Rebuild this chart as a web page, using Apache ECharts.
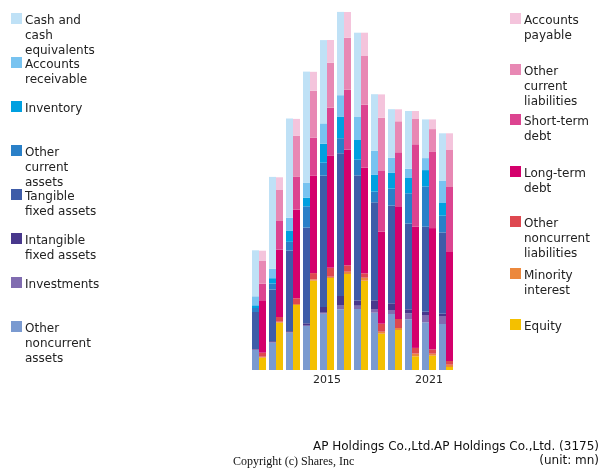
<!DOCTYPE html>
<html><head><meta charset="utf-8">
<script src="https://cdn.jsdelivr.net/npm/echarts@6/dist/echarts.min.js"></script>
<style>html,body{margin:0;padding:0;background:#fff}#c{width:600px;height:470px}</style>
</head><body><div id="c"></div>
<script>
const years = ['2011','2012','2013','2014','2015','2016','2017','2018','2019','2020','2021','2022'];
const tickLabels = ['2015','2021'];
// Assets (bottom to top)
const otherNoncurrentAssets = [20,27.3,37.3,44,56.3,60.7,61,57.3,56,50.7,47.7,46];
const investments = [0.5,0.5,0.5,1,1,3.7,3.3,3.7,4,6,7.3,8];
const intangibleFixedAssets = [0.5,1,1,1.7,5.7,9.7,5.3,8.7,6.7,4,3.3,2.3];
const tangibleFixedAssets = [37,51.7,80.7,95.7,131.3,142.7,125,98,97.7,85.7,85,81.3];
const otherCurrentAssets = [4,6,8.7,21.3,13,15,15.7,10.7,17,30.3,40.3,16.7];
const inventory = [2.7,5.3,11.3,8.7,19,21.7,19.7,16.7,15.7,15.3,16.3,12.7];
const accountsReceivable = [9,9.3,12.7,15,20.3,21.3,23,24,15,9.3,12,22];
const cashAndEquivalents = [46,92,99.3,111,83.3,83.3,84.3,56.7,48.7,57.7,38.7,47.7];
// Liabilities & equity (bottom to top)
const equity = [12.3,47.3,65,89.3,92,96,89.3,36.3,40,13.7,14.3,3];
const minorityInterest = [1,1,1,1.3,1.3,2.3,3,2,2,2.7,2,2.3];
const otherNoncurrentLiabilities = [4,4.7,5.7,6.3,9,6.3,4.3,8,9,5.7,4.3,3.7];
const longTermDebt = [51.7,67.3,88.7,97.3,112.3,115.7,105.7,92,112,121.3,121.3,109];
const shortTermDebt = [17.3,28.7,32.7,38,47.7,60,63,60.7,54.7,82.3,76.7,65];
const otherCurrentLiabilities = [22.7,31,41.3,47,45,52,48.7,53.3,31,25.3,22.3,37];
const accountsPayable = [10.3,12.7,16.7,19,22.7,25.7,23.3,23.3,12,8,9.7,16.7];

const assetSeries = [
  ['Other noncurrent assets', otherNoncurrentAssets, '#7a9ad0'],
  ['Investments', investments, '#806cb0'],
  ['Intangible fixed assets', intangibleFixedAssets, '#48388c'],
  ['Tangible fixed assets', tangibleFixedAssets, '#3e5ca8'],
  ['Other current assets', otherCurrentAssets, '#2a80c8'],
  ['Inventory', inventory, '#00a0e0'],
  ['Accounts receivable', accountsReceivable, '#78c3f0'],
  ['Cash and cash equivalents', cashAndEquivalents, '#bfe1f6']
];
const liabSeries = [
  ['Equity', equity, '#f4c000'],
  ['Minority interest', minorityInterest, '#ec883c'],
  ['Other noncurrent liabilities', otherNoncurrentLiabilities, '#de4850'],
  ['Long-term debt', longTermDebt, '#d4006c'],
  ['Short-term debt', shortTermDebt, '#dc4490'],
  ['Other current liabilities', otherCurrentLiabilities, '#e888b4'],
  ['Accounts payable', accountsPayable, '#f4c4dc']
];
const leftLegend = [
  ['Cash and\ncash\nequivalents', '#bfe1f6', 13],
  ['Accounts\nreceivable', '#78c3f0', 57],
  ['Inventory', '#00a0e0', 101],
  ['Other\ncurrent\nassets', '#2a80c8', 145],
  ['Tangible\nfixed assets', '#3e5ca8', 189],
  ['Intangible\nfixed assets', '#48388c', 233],
  ['Investments', '#806cb0', 277],
  ['Other\nnoncurrent\nassets', '#7a9ad0', 321]
];
const rightLegend = [
  ['Accounts\npayable', '#f4c4dc', 13],
  ['Other\ncurrent\nliabilities', '#e888b4', 64],
  ['Short-term\ndebt', '#dc4490', 114],
  ['Long-term\ndebt', '#d4006c', 166],
  ['Other\nnoncurrent\nliabilities', '#de4850', 216],
  ['Minority\ninterest', '#ec883c', 268],
  ['Equity', '#f4c000', 319]
];

const series = [];
assetSeries.forEach(s => series.push({name:s[0], type:'bar', stack:'assets', data:s[1], barWidth:7, barGap:'0%', itemStyle:{color:s[2]}}));
liabSeries.forEach(s => series.push({name:s[0], type:'bar', stack:'liab', data:s[1], barWidth:7, barGap:'0%', itemStyle:{color:s[2]}}));

const graphic = [];
function addLegend(items, x) {
  items.forEach(it => {
    graphic.push({type:'rect', left:x, top:it[2], shape:{width:11, height:11}, style:{fill:it[1]}});
    graphic.push({type:'text', left:x+14, top:it[2], style:{text:it[0], font:'12px "DejaVu Sans"', fill:'#222', lineHeight:15}});
  });
}
addLegend(leftLegend, 11);
addLegend(rightLegend, 510);
graphic.push({type:'text', right:1, top:441, style:{text:'AP Holdings Co.,Ltd.AP Holdings Co.,Ltd. (3175)', font:'12px "DejaVu Sans"', fill:'#111', align:'right'}});
graphic.push({type:'text', right:1, top:455, style:{text:'(unit: mn)', font:'12px "DejaVu Sans"', fill:'#111', align:'right'}});
graphic.push({type:'text', left:233, top:456, style:{text:'Copyright (c) Shares, Inc', font:'12px "Liberation Serif"', fill:'#111'}});

const chart = echarts.init(document.getElementById('c'), null, {renderer:'canvas'});
chart.setOption({
  animation:false,
  backgroundColor:'#fff',
  grid:{left:250.5, width:204, top:10, bottom:100},
  xAxis:{type:'category', data:years, axisLine:{show:false}, axisTick:{show:false},
    axisLabel:{interval:(i,v)=>tickLabels.indexOf(v)>=0, margin:5, fontSize:11, fontFamily:'DejaVu Sans', color:'#222'}},
  yAxis:{type:'value', min:0, max:360, show:false, splitLine:{show:false}},
  series:series,
  graphic:graphic
});
</script></body></html>
